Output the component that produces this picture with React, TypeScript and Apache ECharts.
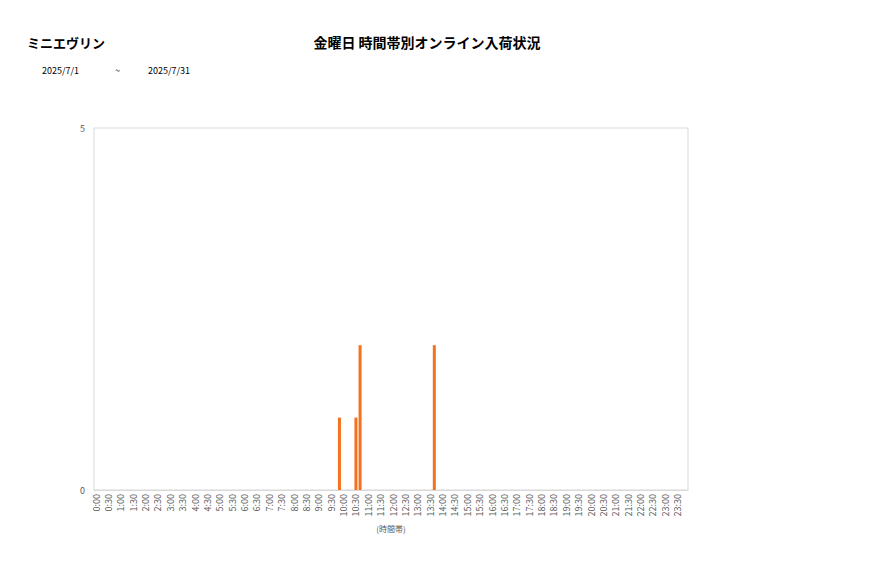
import React, { useEffect, useRef } from 'react';
import * as echarts from 'echarts';

// 10分刻みの時間帯 (0:00 〜 23:50)
const timeSlots: string[] = [];
for (let h = 0; h < 24; h++) {
  for (let m = 0; m < 60; m += 10) {
    timeSlots.push(`${h}:${m === 0 ? '00' : m}`);
  }
}

// 入荷件数 (時間帯, 件数)
const arrivalSlots = ['9:50', '10:30', '10:40', '13:40'];
const arrivalCounts = [1, 1, 2, 2];

const shopName = 'ミニエヴリン';
const chartTitle = '金曜日 時間帯別オンライン入荷状況';
const dateFrom = '2025/7/1';
const dateTo = '2025/7/31';

const FONT = '"Noto Sans CJK JP", "Noto Sans", sans-serif';

export default function App() {
  const chartRef = useRef<HTMLDivElement>(null);

  useEffect(() => {
    if (!chartRef.current) return;
    const chart = echarts.init(chartRef.current, null, { renderer: 'svg' });

    const option = {
      animation: false,
      backgroundColor: '#ffffff',
      textStyle: { fontFamily: FONT },
      title: [
        {
          text: chartTitle,
          left: 422,
          top: 30,
          textAlign: 'center',
          textStyle: { fontSize: 14, fontWeight: 'bold', color: '#000', fontFamily: FONT }
        },
        {
          text: shopName,
          left: 22,
          top: 31,
          textStyle: { fontSize: 13, fontWeight: 'bold', color: '#000', fontFamily: FONT }
        },
        {
          text: dateFrom,
          left: 37,
          top: 61,
          textStyle: { fontSize: 9, fontWeight: 'normal', color: '#000', fontFamily: FONT }
        },
        {
          text: '~',
          left: 110,
          top: 61,
          textStyle: { fontSize: 9, fontWeight: 'normal', color: '#000', fontFamily: FONT }
        },
        {
          text: dateTo,
          left: 143,
          top: 61,
          textStyle: { fontSize: 9, fontWeight: 'normal', color: '#000', fontFamily: FONT }
        }
      ],
      grid: {
        left: 94,
        right: 189,
        top: 128,
        bottom: 88,
        show: true,
        borderColor: '#d9d9d9',
        borderWidth: 1
      },
      xAxis: {
        type: 'category',
        data: timeSlots,
        boundaryGap: true,
        name: '(時間帯)',
        nameLocation: 'middle',
        nameGap: 34,
        nameTextStyle: { fontSize: 8, color: '#595959', fontFamily: FONT },
        axisLine: { lineStyle: { color: '#d9d9d9' } },
        axisTick: { show: false },
        axisLabel: {
          interval: 2,
          rotate: 90,
          fontSize: 9,
          color: '#595959',
          margin: 4,
          fontFamily: FONT
        }
      },
      yAxis: {
        type: 'value',
        min: 0,
        max: 5,
        interval: 5,
        axisLine: { show: false },
        axisTick: { show: false },
        splitLine: { show: false },
        axisLabel: { fontSize: 9, color: '#595959', margin: 9, fontFamily: FONT }
      },
      series: [
        {
          type: 'bar',
          barWidth: 3,
          itemStyle: { color: '#F4711E' },
          data: arrivalSlots.map((slot, i) => [slot, arrivalCounts[i]])
        }
      ]
    };

    chart.setOption(option);
    return () => {
      chart.dispose();
    };
  }, []);

  return (
    <div
      ref={chartRef}
      style={{ position: 'absolute', left: 0, top: 0, width: 877, height: 578 }}
    />
  );
}
